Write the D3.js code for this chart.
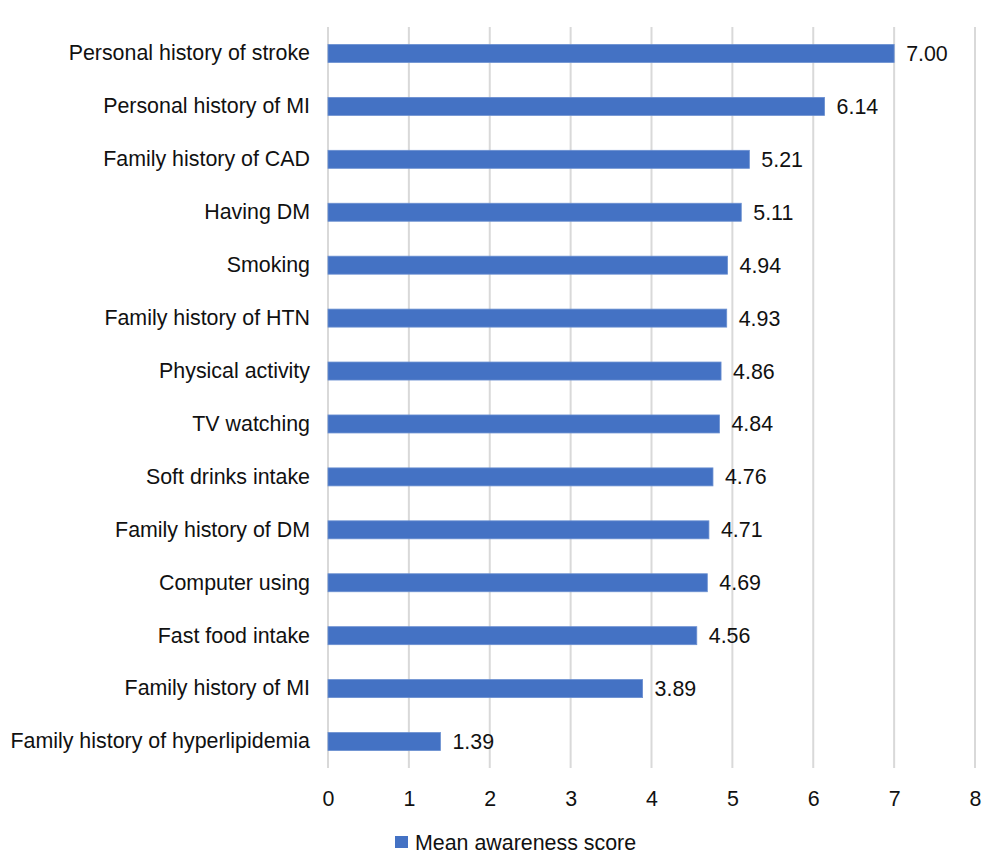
<!DOCTYPE html>
<html>
<head>
<meta charset="utf-8">
<script src="https://cdn.jsdelivr.net/npm/d3@7"></script>
<style>
  body { margin: 0; background: #fff; }
  text { font-family: "Liberation Sans", Arial, sans-serif; fill: #111; }
</style>
</head>
<body>
<svg id="chart" width="997" height="854"></svg>
<script>
var categories = [
  "Personal history of stroke", "Personal history of MI", "Family history of CAD",
  "Having DM", "Smoking", "Family history of HTN", "Physical activity",
  "TV watching", "Soft drinks intake", "Family history of DM", "Computer using",
  "Fast food intake", "Family history of MI", "Family history of hyperlipidemia"
];
var scores = [7.00, 6.14, 5.21, 5.11, 4.94, 4.93, 4.86, 4.84, 4.76, 4.71, 4.69, 4.56, 3.89, 1.39];
var xTicks = [0, 1, 2, 3, 4, 5, 6, 7, 8];
var seriesName = "Mean awareness score";

var svg = d3.select("#chart"),
  plotLeft = 328, plotRight = 975, plotTop = 27, plotBottom = 768,
  barColor = "#4472c4",
  fontSize = "21.4px";

var x = d3.scaleLinear().domain([0, 8]).range([plotLeft, plotRight]);
var y = d3.scaleBand().domain(categories).range([plotTop, plotBottom]).paddingInner(0.66).paddingOuter(0.33);

// grid lines
svg.append("g").selectAll("line")
  .data(xTicks)
  .enter()
  .append("line")
  .attr("x1", function(d){ return x(d); })
  .attr("x2", function(d){ return x(d); })
  .attr("y1", plotTop)
  .attr("y2", plotBottom)
  .attr("stroke", "#d9d9d9")
  .attr("stroke-width", 2);

// x axis labels
var xAxis = svg.append("g")
  .attr("transform", "translate(0," + (plotBottom + 23) + ")")
  .call(d3.axisBottom(x).tickValues(xTicks).tickSize(0).tickPadding(0));
xAxis.select(".domain").remove();
xAxis.selectAll("text").style("font-size", fontSize).attr("dy", "0.71em").attr("fill", "#111");

// y axis labels
var yAxis = svg.append("g")
  .attr("transform", "translate(" + (plotLeft - 18) + ",0)")
  .call(d3.axisLeft(y).tickSize(0).tickPadding(0));
yAxis.select(".domain").remove();
yAxis.selectAll("text").style("font-size", fontSize).attr("fill", "#111");

// bars
svg.append("g").selectAll("rect")
  .data(scores)
  .enter()
  .append("rect")
  .attr("x", x(0))
  .attr("y", function(d, i){ return y(categories[i]); })
  .attr("width", function(d){ return x(d) - x(0); })
  .attr("height", y.bandwidth())
  .attr("fill", barColor)
  .attr("stroke", "#6a8fd0")
  .attr("stroke-width", 0.8);

// value labels
svg.append("g").selectAll("text")
  .data(scores)
  .enter()
  .append("text")
  .attr("x", function(d){ return x(d) + 12; })
  .attr("y", function(d, i){ return y(categories[i]) + y.bandwidth() / 2; })
  .attr("dy", "0.35em")
  .style("font-size", fontSize)
  .text(function(d){ return d.toFixed(2); });

// legend
var legend = svg.append("g").attr("transform", "translate(395,836)");
legend.append("rect").attr("width", 13).attr("height", 12).attr("fill", barColor);
legend.append("text").attr("x", 20).attr("y", 6).attr("dy", "0.35em")
  .style("font-size", fontSize).text(seriesName);
</script>
</body>
</html>
